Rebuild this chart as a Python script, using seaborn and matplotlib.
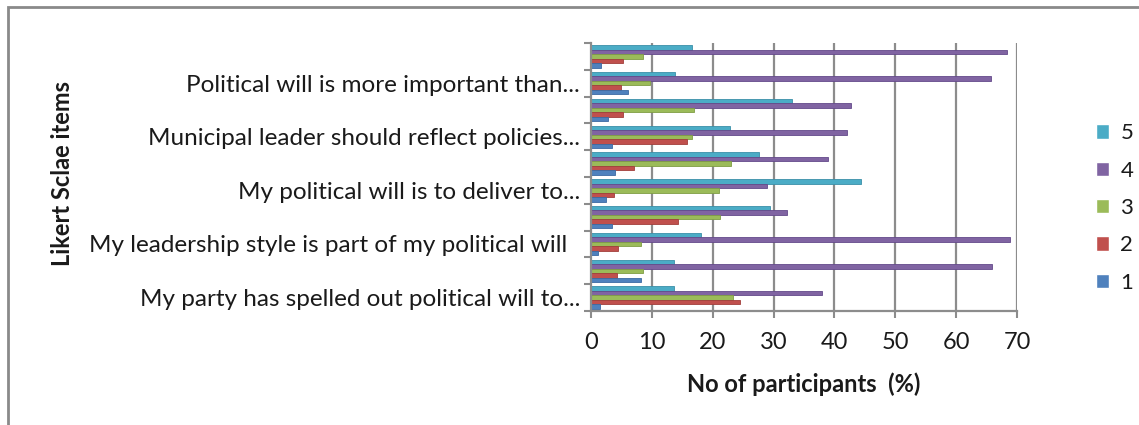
import matplotlib
matplotlib.use("Agg")
import matplotlib.pyplot as plt
from matplotlib.patches import Rectangle
import numpy as np
import pandas as pd
import seaborn as sns

# Likert items, top to bottom (only every other item carries a visible label)
items = ["Q10", "Q9", "Q8", "Q7", "Q6", "Q5", "Q4", "Q3", "Q2", "Q1"]
item_labels = {
    "Q9": "Political will is more important than...",
    "Q7": "Municipal leader should reflect policies...",
    "Q5": "My political will is to deliver to...",
    "Q3": "My leadership style is part of my political will  ",
    "Q1": "My party has spelled out political will to...",
}
scale_points = ["5", "4", "3", "2", "1"]

# Share of participants (%) per Likert point, listed in the order of `items`
pct_5 = [16.6, 13.8, 33.0, 22.9, 27.6, 44.3, 29.4, 18.0, 13.7, 13.7]
pct_4 = [68.4, 65.8, 42.8, 42.0, 39.0, 28.9, 32.2, 68.8, 65.9, 37.9]
pct_3 = [8.5, 9.7, 16.9, 16.6, 23.0, 21.1, 21.2, 8.2, 8.6, 23.4]
pct_2 = [5.2, 5.0, 5.2, 15.8, 7.0, 3.8, 14.3, 4.5, 4.2, 24.5]
pct_1 = [1.6, 6.1, 2.8, 3.4, 3.9, 2.5, 3.5, 1.1, 8.2, 1.4]

series = {"5": pct_5, "4": pct_4, "3": pct_3, "2": pct_2, "1": pct_1}
df = pd.DataFrame(
    [(item, pt, series[pt][i]) for i, item in enumerate(items) for pt in scale_points],
    columns=["item", "point", "pct"],
)

palette = {"5": "#4BACC6", "4": "#8064A2", "3": "#9BBB59", "2": "#C0504D", "1": "#4F81BD"}
edge = {"5": "#3A8FA8", "4": "#64498A", "3": "#7F9D44", "2": "#A13E3B", "1": "#3C6AA3"}

sns.set_theme(style="white")
plt.rcParams["font.family"] = ["Lato", "DejaVu Sans"]

fig = plt.figure(figsize=(11.39, 4.25), dpi=100)
ax = fig.add_axes([591 / 1139, 1 - 311 / 425, (1017 - 591) / 1139, (311 - 43) / 425])

sns.barplot(
    data=df, x="pct", y="item", hue="point", order=items, hue_order=scale_points,
    palette=palette, orient="h", width=0.84, ax=ax, saturation=1, errorbar=None,
)
for cont, pt in zip(ax.containers, scale_points):
    for bar in cont:
        bar.set_edgecolor(edge[pt])
        bar.set_linewidth(0.6)

grid_c = "#8C8C8C"
txt_c = "#1A1A1A"
ax.set_xlim(0, 70)
ax.set_ylim(len(items) - 0.5, -0.5)
ax.set_xticks(np.arange(0, 71, 10))
ax.tick_params(axis="x", length=5, width=1.5, color=grid_c, labelsize=17, pad=10,
               labelcolor=txt_c, bottom=True)
for xv in range(10, 71, 10):
    ax.axvline(xv, color=grid_c, lw=1.6, zorder=0)

# Item labels on every other category; tick marks sit between categories
pos = [i for i, it in enumerate(items) if it in item_labels]
ax.set_yticks(pos)
ax.set_yticklabels([item_labels[items[i]] for i in pos], fontsize=17.5, color=txt_c)
ax.set_yticks(np.arange(-0.5, len(items), 1), minor=True)
ax.tick_params(axis="y", which="major", length=0, pad=8, left=False)
ax.tick_params(axis="y", which="minor", length=5, width=1.5, color=grid_c, left=True)

for side in ["top", "right"]:
    ax.spines[side].set_visible(False)
for side in ["left", "bottom"]:
    ax.spines[side].set_color(grid_c)
    ax.spines[side].set_linewidth(1.6)

ax.set_xlabel("No of participants  (%)", fontsize=17, fontweight="bold",
              labelpad=14, color=txt_c)
ax.set_ylabel("Likert Sclae items", fontsize=17, fontweight="bold", color=txt_c,
              va="center")
ax.yaxis.set_label_coords((62 - 591) / (1017 - 591), (311 - 174) / (311 - 43))

sns.move_legend(
    ax, "center left", bbox_to_anchor=(1087 / 1139, 1 - 208 / 425),
    bbox_transform=fig.transFigure, frameon=False, title=None,
    fontsize=16, labelspacing=0.78, handlelength=0.6, handleheight=0.6,
    handletextpad=0.5, borderaxespad=0, labelcolor=txt_c,
)

# Outer chart border
fig.add_artist(Rectangle((8 / 1139, -0.2), 1.2, 1.2 - 7 / 425,
                         transform=fig.transFigure, fill=False,
                         edgecolor="#8A8A8A", lw=2))

fig.savefig("out.png", dpi=100, facecolor="white")
